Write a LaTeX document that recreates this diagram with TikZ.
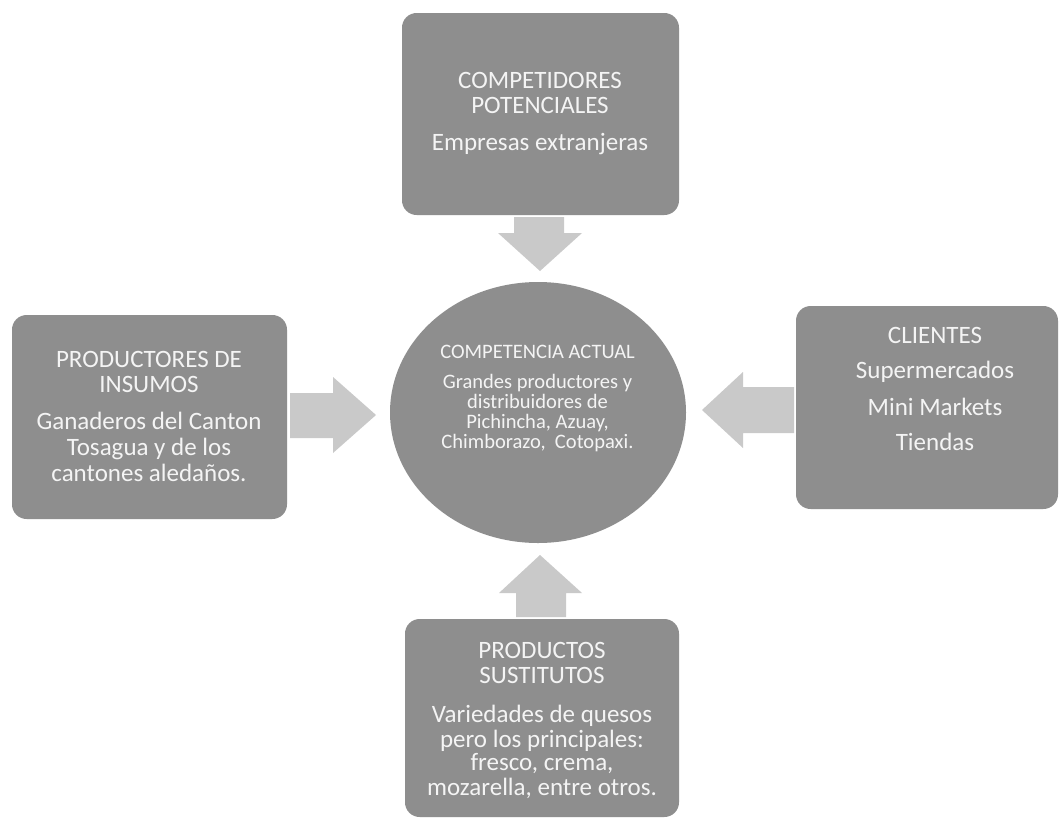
\documentclass[tikz,border=0pt]{standalone}
\usepackage{fontspec}
\setmainfont{Carlito}
\usetikzlibrary{shapes.geometric}
\definecolor{boxgray}{HTML}{8E8E8E}
\definecolor{arrowgray}{HTML}{C9C9C9}
\definecolor{txt}{HTML}{F4F4F4}
\begin{document}
\begin{tikzpicture}[x=0.75pt,y=-0.75pt,
  box/.style={fill=boxgray, draw=none, rounded corners=11pt, inner sep=0pt},
  lbl/.style={text=txt, anchor=base, inner sep=0pt, font=\fontsize{18.75}{22}\selectfont},
  clbl/.style={text=txt, anchor=base, inner sep=0pt, font=\fontsize{15.4}{18}\selectfont},
  blockarrow/.style={fill=arrowgray, draw=none}]
\useasboundingbox (0,0) rectangle (1060,818);
\fill[white] (0,0) rectangle (1060,818);

% boxes
\node[box, minimum width=277*0.75pt, minimum height=202*0.75pt] (pot) at (540.5,114) {};
\node[box, minimum width=275*0.75pt, minimum height=204*0.75pt] (ins) at (149.5,417) {};
\node[box, minimum width=262*0.75pt, minimum height=203*0.75pt] (cli) at (927,407.5) {};
\node[box, minimum width=274*0.75pt, minimum height=198*0.75pt] (sus) at (542,718) {};
\node[ellipse, fill=boxgray, draw=none, inner sep=0pt, minimum width=296*0.75pt, minimum height=261*0.75pt] (act) at (538,412.5) {};

% block arrows
\fill[blockarrow] (514,217) -- (564,217) -- (564,233) -- (582,233) -- (540,271) -- (498,233) -- (514,233) -- cycle;
\fill[blockarrow] (290,393) -- (333,393) -- (333,377) -- (376,415) -- (333,453) -- (333,438) -- (290,438) -- cycle;
\fill[blockarrow] (794,387) -- (743,387) -- (743,372) -- (702,410) -- (743,448) -- (743,433) -- (794,433) -- cycle;
\fill[blockarrow] (516,617) -- (516,593) -- (499,593) -- (540,555) -- (582,593) -- (566,593) -- (566,617) -- cycle;

% top box text
\node[lbl] (pot1) at (540,88) {COMPETIDORES};
\node[lbl] (pot2) at (540,113) {POTENCIALES};
\node[lbl] (pot3) at (540,150) {Empresas extranjeras};

% left box text
\node[lbl] (ins1) at (149,367) {PRODUCTORES DE};
\node[lbl] (ins2) at (149,392) {INSUMOS};
\node[lbl] (ins3) at (149,429) {Ganaderos del Canton};
\node[lbl] (ins4) at (149,455) {Tosagua y de los};
\node[lbl] (ins5) at (149,481) {cantones aledaños.};

% right box text
\node[lbl] (cli1) at (935,343) {CLIENTES};
\node[lbl] (cli2) at (935,378) {Supermercados};
\node[lbl] (cli3) at (935,415) {Mini Markets};
\node[lbl] (cli4) at (935,450) {Tiendas};

% bottom box text
\node[lbl] (sus1) at (542,658) {PRODUCTOS};
\node[lbl] (sus2) at (542,683) {SUSTITUTOS};
\node[lbl] (sus3) at (542,722) {Variedades de quesos};
\node[lbl] (sus4) at (542,747) {pero los principales:};
\node[lbl] (sus5) at (542,770) {fresco, crema,};
\node[lbl] (sus6) at (542,795) {mozarella, entre otros.};

% circle text
\node[clbl] (act1) at (537.5,358) {COMPETENCIA ACTUAL};
\node[clbl] (act2) at (537.5,388) {Grandes productores y};
\node[clbl] (act3) at (537.5,408) {distribuidores de};
\node[clbl] (act4) at (537.5,428) {Pichincha, Azuay,};
\node[clbl] (act5) at (537.5,448) {Chimborazo,\ \ Cotopaxi.};
\end{tikzpicture}
\end{document}
